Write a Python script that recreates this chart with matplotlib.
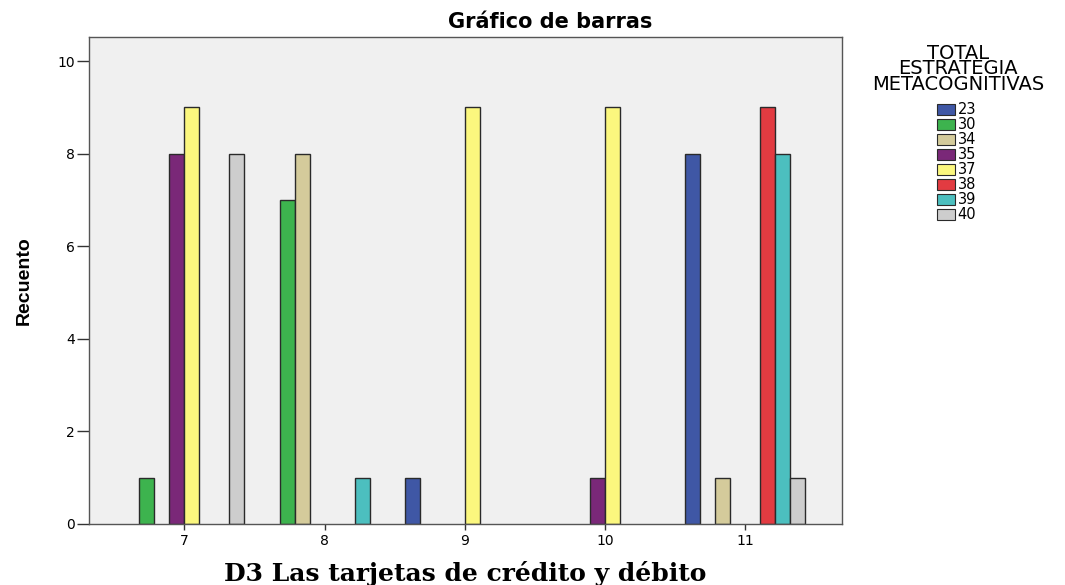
import numpy as np
import matplotlib.pyplot as plt
from matplotlib.patches import Patch

categorias = [7, 8, 9, 10, 11]
series = ["23", "30", "34", "35", "37", "38", "39", "40"]
colores = ["#3f57a5", "#3db34e", "#d4cb9b", "#7a2878", "#fbf77e", "#e23b41", "#4cbfbf", "#cdcdcd"]

v23 = [0, 0, 1, 0, 8]
v30 = [1, 7, 0, 0, 0]
v34 = [0, 8, 0, 0, 1]
v35 = [8, 0, 0, 1, 0]
v37 = [9, 0, 9, 9, 0]
v38 = [0, 0, 0, 0, 9]
v39 = [0, 1, 0, 0, 8]
v40 = [8, 0, 0, 0, 1]
valores = [v23, v30, v34, v35, v37, v38, v39, v40]

plt.rcParams["font.family"] = ["DejaVu Sans"]

fig = plt.figure(figsize=(10.65, 5.85), dpi=100)
ax = fig.add_axes([0.0836, 0.1043, 0.707, 0.8325])
ax.set_facecolor("#f0f0f0")

# ancho de cada barra: 8 series por grupo, 15 px de 140 px por categoría
ancho = 15 / 140
n = len(series)
x = np.array(categorias, dtype=float)
for i, (nombre, vals, color) in enumerate(zip(series, valores, colores)):
    vals = np.array(vals)
    pos = x + (i - (n - 1) / 2) * ancho
    m = vals > 0
    ax.bar(pos[m], vals[m], width=ancho, color=color, edgecolor="#2a2a2a", linewidth=1.0)

ax.set_xlim(6.32, 11.69)
ax.set_ylim(0, 10.52)
ax.set_xticks(categorias)
ax.set_yticks(range(0, 11, 2))
ax.tick_params(axis="y", length=9, width=1, pad=1, labelsize=10, color="#333333")
ax.tick_params(axis="x", length=4, width=1, pad=3, labelsize=10, color="#333333")
for s in ax.spines.values():
    s.set_color("#555555")
    s.set_linewidth(1)

fig.text(550 / 1065, 1 - 28 / 585, "Gráfico de barras", ha="center", va="baseline",
         fontsize=15, fontweight="bold")
ax.set_ylabel("Recuento", fontsize=14, fontweight="bold", family=["Liberation Sans", "DejaVu Sans"])
ax.yaxis.set_label_coords(-0.075, 0.50)
fig.text(465 / 1065, 1 - 581 / 585, "D3 Las tarjetas de crédito y débito", ha="center",
         va="baseline", fontsize=18, fontweight="bold", family=["DejaVu Serif"])

# título de la leyenda aparte, con interlineado apretado
fig.text(958 / 1065, 1 - 44 / 585, "TOTAL\nESTRATEGIA\nMETACOGNITIVAS", ha="center", va="top",
         multialignment="center", fontsize=14, linespacing=0.76)

handles = [Patch(facecolor=c, edgecolor="#2a2a2a", linewidth=0.8) for c in colores]
fig.legend(handles, series, loc="upper center", bbox_to_anchor=(0.898, 1 - 95 / 585),
           frameon=False, fontsize=10.5, handlelength=1.23, handleheight=0.75,
           handletextpad=0.2, labelspacing=0.0, borderpad=0)

fig.savefig("out.png", dpi=100)
